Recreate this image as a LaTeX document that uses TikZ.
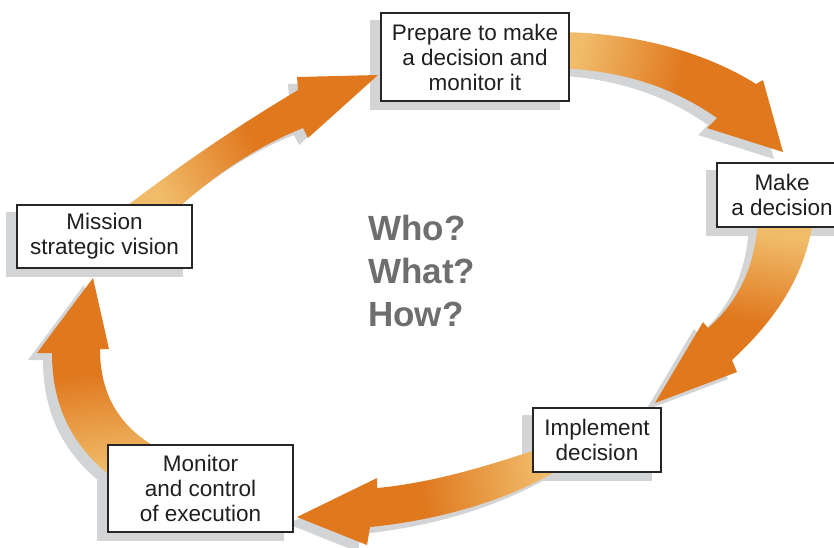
\documentclass[tikz,border=0pt]{standalone}
\usepackage{fontspec}
\setmainfont{Liberation Sans}
\definecolor{orL}{HTML}{F0BC6A}
\definecolor{orD}{HTML}{E0781E}
\definecolor{shd}{HTML}{D3D4D6}
\definecolor{wgray}{HTML}{6D6E70}
\pgfdeclarehorizontalshading{arrowshade}{100bp}{color(0bp)=(orL); color(27bp)=(orL); color(52bp)=(orD); color(100bp)=(orD)}
\pgfdeclarelayer{bg}
\pgfdeclarelayer{mid}
\pgfsetlayers{bg,mid,main}
\newcommand\blockarrow[2]{%
  \fill[shd, shift={(-9,7)}] #2;
  \shade[shading=arrowshade, shading angle=#1] #2;}
\begin{document}
\begin{tikzpicture}[x=1pt,y=-1pt,
  box/.style={draw=black!85, line width=1.1pt, fill=white, inner sep=0pt, align=center,
    text=black!88, font=\fontsize{22.5}{25}\selectfont},
  boxshadow/.style={fill=shd}]
\useasboundingbox (0,0) rectangle (834,547);
\clip (0,0) rectangle (834,547);
% boxes
\node[box, minimum width=188pt, minimum height=88pt] (prep) at (475,57) {Prepare to make\\a decision and\\monitor it};
\node[box, minimum width=130pt, minimum height=64pt] (make) at (782,195) {Make\\a decision};
\node[box, minimum width=175pt, minimum height=63pt] (mission) at (104.5,236.5) {Mission\\strategic vision};
\node[box, minimum width=128pt, minimum height=64pt] (impl) at (597,440) {Implement\\decision};
\node[box, minimum width=185pt, minimum height=87pt] (monitor) at (200.5,488.5) {Monitor\\and control\\of execution};
\node[font=\fontsize{35}{43}\selectfont\bfseries, text=wgray, align=left, anchor=west, inner sep=0pt] (q) at (368,271) {Who?\\What?\\How?};
% box shadows
\begin{pgfonlayer}{bg}
\foreach \b in {prep,make,mission,impl,monitor}{
  \fill[boxshadow] ([shift={(-10,8)}]\b.south west) rectangle ([shift={(-10,8)}]\b.north east);
}
\end{pgfonlayer}
% block arrows
\begin{pgfonlayer}{mid}
\blockarrow{30}{(115,215) .. controls (180,165) and (233,129) .. (298,90) -- (297,77) -- (378,75) -- (308,138) -- (303,128) .. controls (258,146) and (215,174) .. (170,215) -- cycle}
\blockarrow{-12}{(555,32) .. controls (640,32) and (710,55) .. (756,84) -- (763,80) -- (783,152) -- (707,128) -- (717,118) .. controls (680,92) and (630,70) .. (555,68) -- cycle}
\blockarrow{-100}{(758,220) .. controls (755,265) and (740,300) .. (708,328) -- (703,322) -- (655,403) -- (737,372) -- (732,360) .. controls (770,325) and (805,280) .. (813,220) -- cycle}
\blockarrow{188}{(565,440) .. controls (500,462) and (440,482) .. (377,488) -- (377,478) -- (297,517) -- (367,545) -- (370,527) .. controls (440,520) and (510,500) .. (565,466) -- cycle}
\blockarrow{97}{(93,278) -- (109,349) -- (100,349) .. controls (100,395) and (120,430) .. (165,452) -- (118,482) .. controls (75,450) and (52,410) .. (52,353) -- (37,353) -- cycle}
\end{pgfonlayer}
\end{tikzpicture}
\end{document}
